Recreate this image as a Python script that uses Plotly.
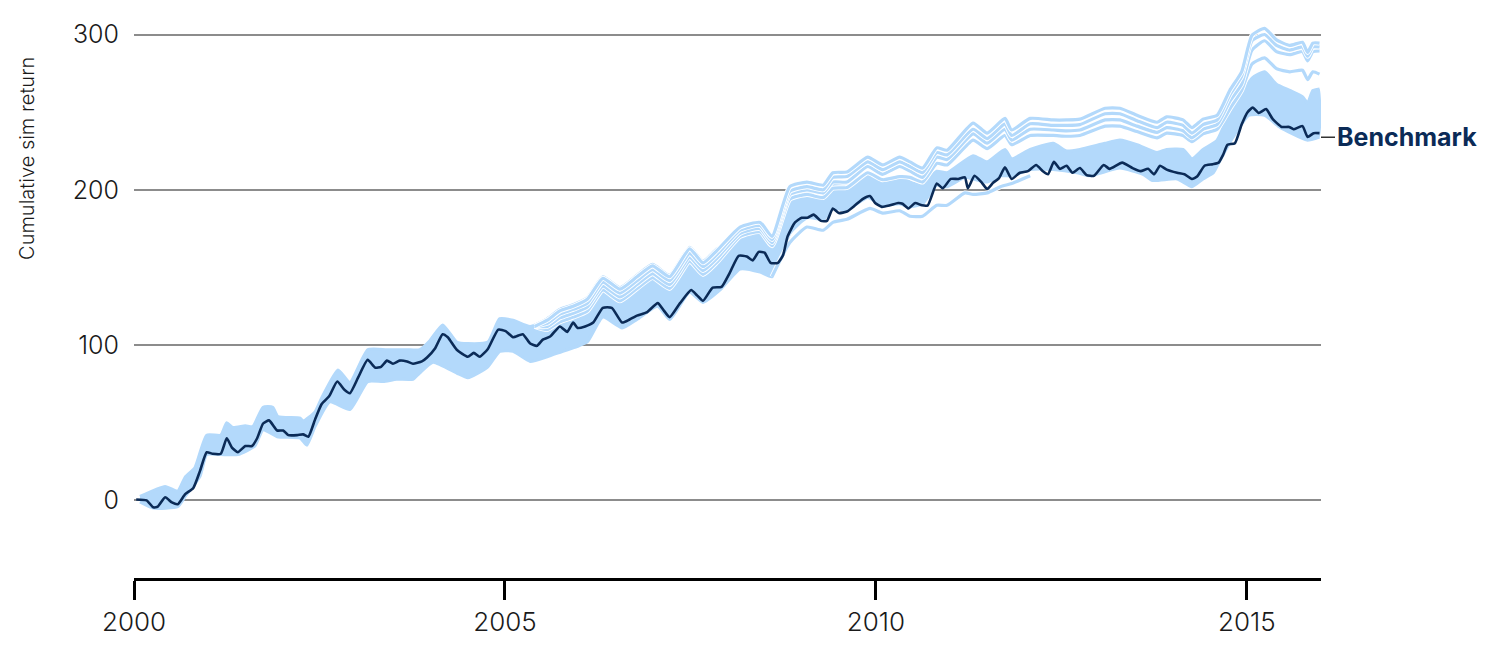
import plotly.graph_objects as go

# benchmark cumulative return
bench_x = [2000.03, 2000.17, 2000.26, 2000.32, 2000.42, 2000.51, 2000.59, 2000.69, 2000.80, 2000.89, 2000.98,
           2001.06, 2001.17, 2001.25, 2001.32, 2001.40, 2001.50, 2001.59, 2001.66, 2001.74, 2001.82, 2001.93,
           2002.01, 2002.08, 2002.20, 2002.28, 2002.35, 2002.44, 2002.53, 2002.63, 2002.74, 2002.84, 2002.91,
           2003.02, 2003.15, 2003.25, 2003.33, 2003.41, 2003.49, 2003.58, 2003.68, 2003.76, 2003.88, 2003.95,
           2004.06, 2004.16, 2004.23, 2004.35, 2004.50, 2004.58, 2004.66, 2004.77, 2004.91,
           2005.01, 2005.11, 2005.24, 2005.34, 2005.43, 2005.51, 2005.61, 2005.74, 2005.84, 2005.92, 2005.98,
           2006.08, 2006.19, 2006.32, 2006.44, 2006.58, 2006.68, 2006.78, 2006.91,
           2007.06, 2007.13, 2007.22, 2007.36, 2007.51, 2007.59, 2007.67, 2007.80, 2007.92,
           2008.03, 2008.15, 2008.26, 2008.34, 2008.42, 2008.50, 2008.58, 2008.68, 2008.75, 2008.81, 2008.91,
           2009.00, 2009.08, 2009.16, 2009.26, 2009.34, 2009.42, 2009.50, 2009.61, 2009.72, 2009.82, 2009.92, 2009.99,
           2010.08, 2010.19, 2010.30, 2010.36, 2010.44, 2010.53, 2010.62, 2010.70, 2010.82, 2010.90,
           2011.01, 2011.11, 2011.20, 2011.24, 2011.33, 2011.43, 2011.50, 2011.58, 2011.66, 2011.74, 2011.83, 2011.94,
           2012.05, 2012.16, 2012.25, 2012.32, 2012.40, 2012.48, 2012.57, 2012.65, 2012.75, 2012.84, 2012.94,
           2013.07, 2013.15, 2013.32, 2013.46, 2013.57, 2013.67, 2013.75, 2013.83, 2013.92,
           2014.06, 2014.16, 2014.26, 2014.33, 2014.43, 2014.54, 2014.62, 2014.68, 2014.74, 2014.84, 2014.93,
           2015.01, 2015.08, 2015.16, 2015.26, 2015.35, 2015.47, 2015.57, 2015.63, 2015.75, 2015.82, 2015.90, 2015.98]
bench_y = [0.6, 0, -4.5, -4, 2, -1.3, -2.5, 4, 8, 19, 31,
           30, 30, 40, 34, 31, 35, 35, 40, 49.5, 51.5, 45,
           45, 42, 42, 42.5, 41, 52, 62, 67, 76.5, 71, 69,
           79, 90.5, 85.5, 86, 90, 88, 90, 89.5, 88, 89.5, 92,
           98, 107, 105, 97, 92.5, 95, 92.5, 97.5, 110,
           109, 105, 107, 101, 99.5, 103.5, 105.5, 112, 108.5, 114.5, 111,
           112, 114.5, 124, 124, 114.5, 116.5, 119, 121,
           127, 123, 118, 127, 135.5, 132, 128.5, 137, 137.5,
           146.5, 157.5, 157, 154.5, 160, 159.5, 153, 153, 158, 170, 179,
           182, 182, 184, 180, 180, 188, 185, 186, 190, 194, 196, 191.5,
           189, 190, 191.5, 191, 188, 191.5, 190, 190, 204, 201,
           207, 207, 208, 201, 209, 204.5, 200.5, 204.5, 207.5, 214.5, 207, 211,
           212, 216, 212, 210, 218, 213.5, 215.5, 211, 214, 209.5, 209,
           216, 213.5, 217.5, 214, 212, 213.5, 210, 215.5, 213,
           211, 210, 207, 208.5, 215.5, 216.5, 217.5, 222.5, 229, 230, 242,
           250, 253, 249.5, 252, 245.5, 240.5, 240.5, 239, 241, 234, 236.5, 236.5]

# top edge of the dense bundle of simulations
band_top_x = [2000.08, 2000.42, 2000.59, 2000.69, 2000.82, 2000.98, 2001.17, 2001.25, 2001.33, 2001.50, 2001.60,
              2001.74, 2001.87, 2001.94, 2002.24, 2002.28, 2002.44, 2002.53, 2002.75, 2002.91, 2003.15, 2003.41,
              2003.68, 2003.85, 2003.99, 2004.16, 2004.35, 2004.50, 2004.77, 2004.93, 2005.11, 2005.34, 2005.57,
              2005.74, 2005.92, 2006.11, 2006.32, 2006.55, 2006.78, 2006.99, 2007.22, 2007.49, 2007.67, 2007.86,
              2008.17, 2008.44, 2008.60, 2008.84, 2009.07, 2009.29, 2009.42, 2009.61, 2009.89, 2010.09, 2010.32,
              2010.46, 2010.63, 2010.82, 2010.96, 2011.31, 2011.50, 2011.74, 2011.83, 2012.08, 2012.39, 2012.57,
              2012.75, 2013.09, 2013.29, 2013.52, 2013.79, 2013.92, 2014.14, 2014.26, 2014.41, 2014.60, 2014.77,
              2014.93, 2015.07, 2015.24, 2015.40, 2015.58, 2015.75, 2015.82, 2015.89, 2015.98]
band_top_y = [2.5, 9, 6, 15, 21, 42, 42, 50, 47, 48, 47.5,
              60, 60, 54, 53, 51, 57, 66, 84, 76, 97, 97,
              97, 97, 103, 113, 102, 101, 102, 117, 116, 112, 117,
              123, 126, 130.5, 144, 137, 145, 152, 145, 163, 154, 162,
              170, 172, 165, 196, 199, 197, 204, 203, 210, 205, 208,
              205, 203, 212, 211, 222, 218, 226, 220, 226, 230, 225,
              226, 230, 232, 229, 224, 226, 226, 220, 226, 232, 250,
              262, 272, 276, 268, 264, 260, 256, 264, 265]

# bottom edge of the dense bundle of simulations
band_low_x = [2000.08, 2000.26, 2000.59, 2000.69, 2000.89, 2000.98, 2001.17, 2001.40, 2001.63, 2001.74, 2001.93,
              2002.24, 2002.33, 2002.44, 2002.64, 2002.91, 2003.15, 2003.36, 2003.54, 2003.76, 2003.85, 2004.03,
              2004.35, 2004.50, 2004.77, 2004.93, 2005.11, 2005.34, 2005.57, 2005.78, 2005.97, 2006.11, 2006.32,
              2006.58, 2006.78, 2007.06, 2007.22, 2007.49, 2007.67, 2007.90, 2008.17, 2008.44, 2008.60, 2008.84,
              2009.07, 2009.29, 2009.42, 2009.61, 2009.89, 2010.09, 2010.32, 2010.46, 2010.63, 2010.82, 2010.96,
              2011.20, 2011.31, 2011.50, 2011.68, 2011.83, 2012.08, 2012.39, 2012.71, 2012.88, 2013.29, 2013.60,
              2013.73, 2014.06, 2014.26, 2014.41, 2014.55, 2014.64, 2014.81, 2015.03, 2015.24, 2015.44, 2015.81,
              2015.98]
band_low_y = [-1, -5, -4, 2.5, 15.5, 29.5, 29.5, 29.5, 35, 45.5, 41,
              40, 35.5, 47.5, 63.5, 58.5, 76.5, 76.5, 78, 78, 82, 89,
              82, 79, 86, 96, 96, 89.5, 92.5, 96, 99, 102, 118,
              111, 116.5, 125, 116.5, 134, 127.5, 135.5, 149, 147, 144, 172,
              182, 181, 188, 187, 195, 190, 191, 189, 191, 203, 202,
              208, 207, 205, 209, 209, 213, 213, 211, 209, 214, 210,
              206, 207, 202, 207, 211, 219, 233.5, 248, 248, 240.5, 232,
              234]

# simulations that run along the top of the bundle and break away after 2008
sim_x = [2005.40, 2005.57, 2005.74, 2005.92, 2006.11, 2006.32, 2006.55, 2006.78, 2006.99, 2007.22, 2007.49,
         2007.67, 2007.86,
         2008.17, 2008.44, 2008.60, 2008.84, 2009.07, 2009.29, 2009.42, 2009.61, 2009.89, 2010.09, 2010.32,
         2010.46, 2010.63, 2010.82, 2010.96, 2011.31, 2011.50, 2011.74, 2011.83, 2012.08, 2012.39, 2012.57,
         2012.75, 2013.09, 2013.29, 2013.52, 2013.79, 2013.92, 2014.14, 2014.26, 2014.41, 2014.60, 2014.77,
         2014.93, 2015.07, 2015.24, 2015.40, 2015.58, 2015.75, 2015.82, 2015.89, 2015.98]
sim_a = [112, 116, 122, 125, 129.5, 143, 136, 144, 151, 144, 162,
         153, 161,
         176, 179, 170, 202, 205, 203, 211, 211.5, 221, 216, 221,
         218, 214, 227, 225.5, 243, 236.5, 246, 238.5, 246, 245, 245,
         245.5, 252.5, 252.5, 248, 243.5, 247, 245, 240, 245.5, 248, 264,
         276, 299.5, 304, 296.5, 293, 295, 288.5, 294.5, 294.5]
sim_b = [112, 114, 120, 123, 127, 140.5, 133.5, 141.5, 148.5, 141.5, 159,
         150.5, 158.5,
         174, 177, 168, 199, 202, 200, 208, 208.5, 218, 213, 218,
         215, 211, 224, 222.5, 239, 233, 242.5, 235, 242.5, 241.5, 241.5,
         242, 249, 249, 244.5, 240, 243.5, 241.5, 236.5, 242, 245, 261,
         273, 296, 300, 293, 290, 292, 286, 292, 292]
sim_c = [112, 112, 117.5, 120.5, 124.5, 138, 131, 139, 146, 139, 156.5,
         148, 156,
         172, 175, 166, 197, 200, 198, 205, 205, 215, 210, 215,
         212, 208, 221, 219.5, 236, 230, 239, 232, 239, 238.5, 238,
         238.5, 245, 245, 241, 237, 240, 238, 233.5, 239, 242, 257,
         268, 290, 296, 289, 287, 289, 283, 289, 289.5]
sim_d = [112, 110, 115, 118, 122, 135.5, 128.5, 136.5, 143.5, 136.5, 154,
         145.5, 153.5,
         170, 173, 164, 194, 197, 195, 201, 201.5, 211, 206.5, 208.5,
         208, 205, 217, 216, 232, 226.5, 235, 229, 235, 235, 234.5,
         235, 241, 241, 237.5, 233.5, 236.5, 235, 231, 236, 239, 252,
         264, 281, 285, 278, 276, 277, 271, 276, 274.5]
# one simulation running just under the benchmark 2008-2012
low_x = [2008.60, 2008.84, 2009.07, 2009.29, 2009.42, 2009.61, 2009.92, 2010.09, 2010.32, 2010.46, 2010.63,
         2010.82, 2010.96, 2011.20, 2011.31, 2011.50, 2011.68, 2011.83, 2012.08]
low_y = [144, 166, 176, 174, 179, 181, 188, 185, 186.5, 183, 183,
         190, 190, 198, 197, 198, 202, 204, 209]

SIM = "#b3d9fb"
NAVY = "#0b2b57"
FONT = "Inter"
SPL = dict(shape="spline", smoothing=0.5)

fig = go.Figure()

# dense bundle as a filled region
fig.add_trace(go.Scatter(x=band_top_x + band_low_x[::-1], y=band_top_y + band_low_y[::-1],
                         fill="toself", fillcolor=SIM, mode="lines", line=dict(width=0, **SPL),
                         hoverinfo="skip", showlegend=False))
for xs, ys in [(band_top_x, band_top_y), (band_low_x, band_low_y)]:
    fig.add_trace(go.Scatter(x=xs, y=ys, mode="lines", line=dict(color=SIM, width=3, **SPL),
                             hoverinfo="skip", showlegend=False))

# individual simulation lines, white halo then light blue
for xs, ys in [(low_x, low_y), (sim_x, sim_d), (sim_x, sim_c), (sim_x, sim_b), (sim_x, sim_a)]:
    fig.add_trace(go.Scatter(x=xs, y=ys, mode="lines", line=dict(color="white", width=5, **SPL),
                             hoverinfo="skip", showlegend=False))
    fig.add_trace(go.Scatter(x=xs, y=ys, mode="lines", line=dict(color=SIM, width=3.2, **SPL),
                             hoverinfo="skip", showlegend=False))

fig.add_trace(go.Scatter(x=bench_x, y=bench_y, mode="lines", name="Benchmark",
                         line=dict(color=NAVY, width=2.6, **SPL), showlegend=False))

fig.add_annotation(x=2016, y=bench_y[-1], xref="x", yref="y", text="<b>Benchmark</b>",
                   showarrow=True, arrowhead=0, arrowwidth=1.5, arrowcolor="#333333",
                   ax=14, ay=0, xanchor="left", standoff=0, yshift=-4,
                   font=dict(family=FONT, size=25, color=NAVY))

fig.add_annotation(x=-0.09, y=0.75, xref="paper", yref="paper", text="Cumulative sim return",
                   showarrow=False, textangle=-90, xanchor="center", yanchor="middle",
                   font=dict(family=FONT, size=20, color="#1a1a1a", weight=300))

fig.update_layout(
    width=1500, height=650,
    margin=dict(l=126, r=187, t=11, b=80),
    plot_bgcolor="white", paper_bgcolor="white",
    font=dict(family=FONT, size=24, color="#1a1a1a", weight=300),
    xaxis=dict(range=[2000, 2016], tickvals=[2000, 2005, 2010, 2015], ticktext=["2000", "2005", "2010", "2015"],
               showgrid=False, zeroline=False, showline=True, linecolor="black", linewidth=3,
               ticks="outside", ticklen=19, tickwidth=3, tickcolor="black",
               tickfont=dict(family=FONT, size=26, weight=300)),
    yaxis=dict(range=[-50, 310], tickvals=[0, 100, 200, 300], showgrid=True, gridcolor="#8c8c8c", gridwidth=1.5,
               zeroline=False, showline=False, ticks="", ticklabelstandoff=14,
               tickfont=dict(family=FONT, size=25, weight=300)),
)

fig.write_html("out.html")
